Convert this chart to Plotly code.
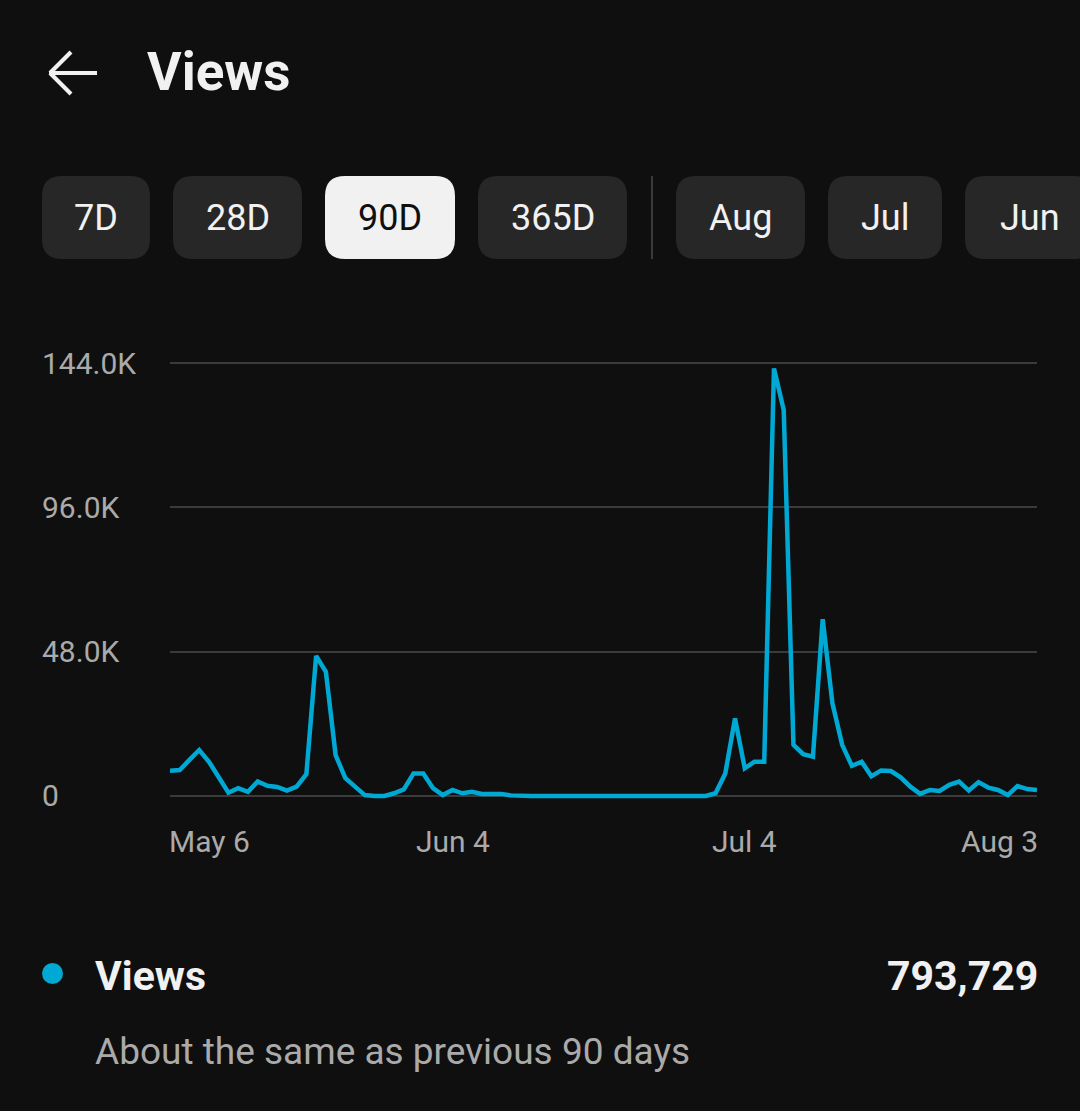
import pandas as pd
import plotly.graph_objects as go

# ---------------- data ----------------
START_DATE = "2024-05-06"
VIEWS = [
    8400, 8600, 12000, 15300, 11400, 6000, 1100, 2600, 1400, 4800,
    3400, 3000, 1800, 3100, 7300, 46600, 41300, 13600, 5900, 3100,
    300, 0, 0, 900, 2200, 7500, 7500, 2600, 300, 2000,
    900, 1400, 700, 700, 700, 200, 0, 0, 0, 0,
    0, 0, 0, 0, 0, 0, 0, 0, 0, 0,
    0, 0, 0, 0, 0, 0, 900, 7500, 25800, 9200,
    11400, 11400, 142200, 128400, 17000, 13900, 13100, 58800, 30800, 17000,
    10000, 11400, 6600, 8500, 8300, 6200, 3100, 700, 2000, 1700,
    3700, 4800, 1800, 4600, 2800, 2000, 300, 3300, 2300, 2000,
]
DATES = pd.date_range(START_DATE, periods=len(VIEWS), freq="D")

YTICK_VALUES = [0, 48000, 96000, 144000]
YTICK_LABELS = ["0", "48.0K", "96.0K", "144.0K"]
XTICK_DATES = ["2024-05-06", "2024-06-04", "2024-07-04", "2024-08-03"]
XTICK_LABELS = ["May 6", "Jun 4", "Jul 4", "Aug 3"]
XTICK_ANCHORS = ["left", "center", "center", "right"]

TITLE = "Views"
BUTTONS = ["7D", "28D", "90D", "365D", "Aug", "Jul", "Jun"]
SELECTED = "90D"
METRIC_NAME = "Views"
METRIC_TOTAL = "793,729"
COMPARISON = "About the same as previous 90 days"

# ---------------- style ----------------
BG = "#0f0f0f"
LINE = "#00a8d4"
GRID = "#3b3b3b"
TEXT = "#f1f1f1"
MUTED = "#aaaaaa"
BTN = "#272727"
FONT = "Roboto"

W, H = 1080, 1111
L, R = 170, 43
T, B = 354, 306
PW, PH = W - L - R, H - T - B


def px(xp):
    return (xp - L) / PW


def py(yp):
    return (T + PH - yp) / PH


fig = go.Figure()
fig.add_trace(go.Scatter(
    x=DATES, y=VIEWS, mode="lines",
    line=dict(color=LINE, width=4.5), hoverinfo="skip", showlegend=False,
))

shapes = []
annotations = []

# back arrow
for (x0, y0, x1, y1) in [(49, 73, 97, 73), (50, 73, 71, 52), (50, 73, 71, 94)]:
    shapes.append(dict(type="line", xref="paper", yref="paper",
                       x0=px(x0), y0=py(y0), x1=px(x1), y1=py(y1),
                       line=dict(color=TEXT, width=4)))
annotations.append(dict(text="<b>" + TITLE + "</b>", xref="paper", yref="paper",
                        x=px(145), y=py(72), xanchor="left", yanchor="middle",
                        showarrow=False, font=dict(family=FONT, size=53, color=TEXT)))


def rrect(x0, y0, x1, y1, r):
    pts = [
        ("M", [(x0 + r, y0)]), ("L", [(x1 - r, y0)]), ("Q", [(x1, y0), (x1, y0 + r)]),
        ("L", [(x1, y1 - r)]), ("Q", [(x1, y1), (x1 - r, y1)]), ("L", [(x0 + r, y1)]),
        ("Q", [(x0, y1), (x0, y1 - r)]), ("L", [(x0, y0 + r)]), ("Q", [(x0, y0), (x0 + r, y0)]),
    ]
    s = ""
    for cmd, ps in pts:
        s += cmd + " " + " ".join(f"{px(a):.5f},{py(b):.5f}" for a, b in ps) + " "
    return s + "Z"


BTN_X = [(42, 150), (173, 302), (325, 455), (478, 627), (676, 805), (828, 942), (965, 1094)]
for label, (bx0, bx1) in zip(BUTTONS, BTN_X):
    sel = label == SELECTED
    shapes.append(dict(type="path", xref="paper", yref="paper",
                       path=rrect(bx0, 176, bx1, 259, 20),
                       fillcolor=TEXT if sel else BTN, line=dict(width=0)))
    annotations.append(dict(text=label, xref="paper", yref="paper",
                            x=px((bx0 + bx1) / 2), y=py(218), xanchor="center", yanchor="middle",
                            showarrow=False,
                            font=dict(family=FONT, size=36, weight=400, color=BG if sel else TEXT)))
# separator
shapes.append(dict(type="line", xref="paper", yref="paper",
                   x0=px(652), y0=py(176), x1=px(652), y1=py(259),
                   line=dict(color="#3a3a3a", width=2)))

# y tick labels (left aligned)
for v, lab in zip(YTICK_VALUES, YTICK_LABELS):
    annotations.append(dict(text=lab, xref="paper", yref="y", x=px(40), y=v,
                            xanchor="left", yanchor="middle", showarrow=False,
                            font=dict(family=FONT, size=30, color=MUTED)))
# x tick labels
SHIFT = {"left": -3, "center": 0, "right": 3}
for d, lab, anc in zip(XTICK_DATES, XTICK_LABELS, XTICK_ANCHORS):
    annotations.append(dict(text=lab, xref="x", yref="paper", x=d, y=py(841),
                            xanchor=anc, yanchor="middle", xshift=SHIFT[anc], showarrow=False,
                            font=dict(family=FONT, size=30, color=MUTED)))

# legend / summary
shapes.append(dict(type="circle", xref="paper", yref="paper",
                   x0=px(42), y0=py(963), x1=px(63), y1=py(984),
                   fillcolor=LINE, line=dict(width=0)))
annotations.append(dict(text="<b>" + METRIC_NAME + "</b>", xref="paper", yref="paper",
                        x=px(93), y=py(976), xanchor="left", yanchor="middle", showarrow=False,
                        font=dict(family=FONT, size=41, color=TEXT)))
annotations.append(dict(text="<b>" + METRIC_TOTAL + "</b>", xref="paper", yref="paper",
                        x=px(1040), y=py(976), xanchor="right", yanchor="middle", showarrow=False,
                        font=dict(family=FONT, size=41, color=TEXT)))
annotations.append(dict(text=COMPARISON, xref="paper", yref="paper",
                        x=px(93), y=py(1051), xanchor="left", yanchor="middle", showarrow=False,
                        font=dict(family=FONT, size=37, color=MUTED)))

fig.update_layout(
    width=W, height=H,
    margin=dict(l=L, r=R, t=T, b=B, pad=0),
    paper_bgcolor=BG, plot_bgcolor=BG,
    showlegend=False,
    xaxis=dict(range=[DATES[0], DATES[-1]], showgrid=False, zeroline=False,
               showticklabels=False, showline=False, ticks="", fixedrange=True),
    yaxis=dict(range=[-3000, 147000], tickvals=YTICK_VALUES, showgrid=True,
               gridcolor=GRID, gridwidth=2, zeroline=False, showticklabels=False,
               showline=False, ticks="", fixedrange=True),
    shapes=shapes,
    annotations=annotations,
    font=dict(family=FONT),
)

fig.write_html(
    "out.html",
    config={"displayModeBar": False},
    post_script="document.body.style.margin='0';document.body.style.background='" + BG
    + "';document.body.style.overflow='hidden';",
)
